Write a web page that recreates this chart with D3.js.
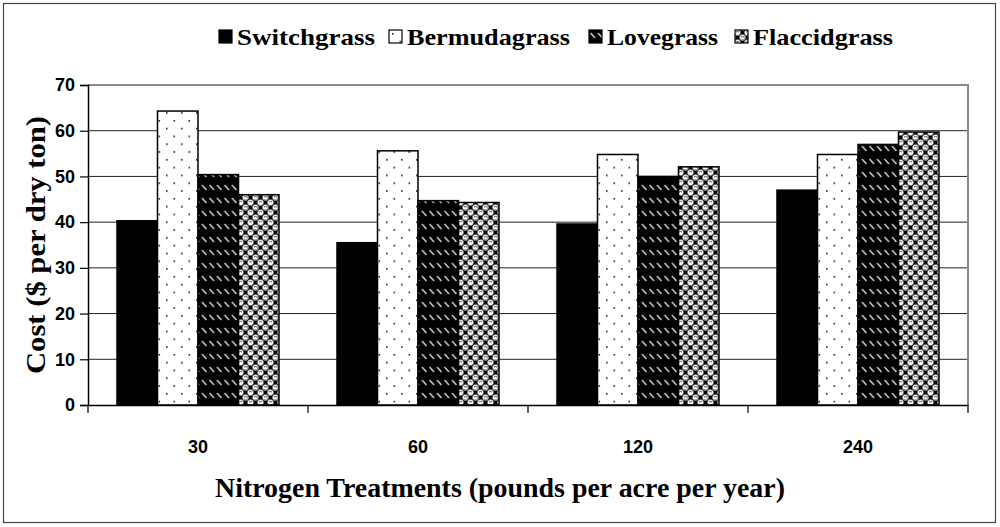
<!DOCTYPE html>
<html>
<head>
<meta charset="utf-8">
<script src="https://cdn.jsdelivr.net/npm/d3@7"></script>
<style>
  html, body { margin: 0; padding: 0; background: #fff; }
  svg { display: block; }
</style>
</head>
<body>
<svg id="chart" width="1000" height="527"></svg>
<script>
const categories = ["30", "60", "120", "240"];
const seriesNames = ["Switchgrass", "Bermudagrass", "Lovegrass", "Flaccidgrass"];
const switchgrass = [40.3, 35.5, 39.6, 47.0];
const bermudagrass = [64.3, 55.6, 54.8, 54.8];
const lovegrass = [50.4, 44.7, 50.0, 57.0];
const flaccidgrass = [46.0, 44.3, 52.1, 59.7];
const yTicks = [0, 10, 20, 30, 40, 50, 60, 70];

const seriesValues = [switchgrass, bermudagrass, lovegrass, flaccidgrass];
const fills = ["#000", "url(#pBerm)", "url(#pLove)", "url(#pFlac)"];
const serif = "'Liberation Serif', 'Times New Roman', serif";
const sans = "'Liberation Sans', Arial, sans-serif";

const svg = d3.select("#chart");
const defs = svg.append("defs");

// Bermudagrass: white with sparse staggered dots
const pB = defs.append("pattern").attr("id", "pBerm").attr("patternUnits", "userSpaceOnUse")
  .attr("width", 15).attr("height", 15.6);
pB.append("rect").attr("width", 15).attr("height", 15.6).attr("fill", "#fff");
pB.append("rect").attr("x", 3).attr("y", 3).attr("width", 1.6).attr("height", 1.6).attr("fill", "#222");
pB.append("rect").attr("x", 10.5).attr("y", 10.8).attr("width", 1.6).attr("height", 1.6).attr("fill", "#222");

// Lovegrass: black with white diagonal dashes
const pL = defs.append("pattern").attr("id", "pLove").attr("patternUnits", "userSpaceOnUse")
  .attr("width", 7.5).attr("height", 13);
pL.append("rect").attr("width", 7.5).attr("height", 13).attr("fill", "#000");
pL.append("line").attr("x1", 1.5).attr("y1", 3).attr("x2", 6).attr("y2", 8)
  .attr("stroke", "#d8d8d8").attr("stroke-width", 1.4);

// Flaccidgrass: checker of black squares and white circles
const pF = defs.append("pattern").attr("id", "pFlac").attr("patternUnits", "userSpaceOnUse")
  .attr("width", 10).attr("height", 10);
pF.append("rect").attr("width", 10).attr("height", 10).attr("fill", "#000");
[[2.5, 2.5], [7.5, 7.5], [7.5, -2.5], [-2.5, 7.5], [12.5, 7.5], [7.5, 12.5], [2.5, 12.5], [12.5, 2.5]].forEach(([cx, cy]) => {
  pF.append("circle").attr("cx", cx).attr("cy", cy).attr("r", 3.1).attr("fill", "#fff")
    .attr("stroke", "#555").attr("stroke-width", 0.6);
  pF.append("path").attr("d", `M${cx - 1.5},${cy - 0.4} Q${cx},${cy - 1.8} ${cx + 1.5},${cy - 0.4}`)
    .attr("stroke", "#333").attr("stroke-width", 0.9).attr("fill", "none");
});

// Outer border
svg.append("rect").attr("x", 3.5).attr("y", 3.5).attr("width", 992).attr("height", 519)
  .attr("fill", "none").attr("stroke", "#444").attr("stroke-width", 1.2);

const pLeft = 88, pRight = 968, pTop = 85, pBottom = 405;
const x0 = d3.scaleBand().domain(categories).range([pLeft, pRight]).padding(0);
const x1 = d3.scaleBand().domain(seriesNames).range([29, x0.bandwidth() - 29]).padding(0);
const y = d3.scaleLinear().domain([0, 70]).range([pBottom, pTop]);

// Gridlines
svg.append("g").selectAll("line").data(yTicks.filter(t => t > 0 && t < 70)).join("line")
  .attr("x1", pLeft).attr("x2", pRight).attr("y1", d => y(d)).attr("y2", d => y(d))
  .attr("stroke", "#222").attr("stroke-width", 1);

// Plot area border top/right (gray)
svg.append("path").attr("d", `M${pLeft},${pTop} H${pRight} V${pBottom}`)
  .attr("fill", "none").attr("stroke", "#8a8a8a").attr("stroke-width", 2);

// Bars
const groups = svg.append("g").selectAll("g").data(categories).join("g")
  .attr("transform", d => `translate(${x0(d)},0)`);
groups.selectAll("rect").data((c, ci) => seriesNames.map((s, si) => ({ s, si, v: seriesValues[si][ci] })))
  .join("rect")
  .attr("x", d => x1(d.s)).attr("width", x1.bandwidth())
  .attr("y", d => y(d.v)).attr("height", d => y(0) - y(d.v))
  .attr("fill", d => fills[d.si]).attr("stroke", "#000").attr("stroke-width", 1.5);

// Y axis
const yAxis = d3.axisLeft(y).tickValues(yTicks).tickSize(8).tickPadding(5);
const gy = svg.append("g").attr("transform", `translate(${pLeft},0)`).call(yAxis);
gy.select(".domain").attr("stroke", "#000").attr("stroke-width", 1.5);
gy.selectAll(".tick line").attr("stroke", "#000").attr("stroke-width", 1.2);
gy.selectAll(".tick text").attr("font-family", sans)
  .attr("font-weight", "bold").attr("font-size", 18).attr("fill", "#000");

// X axis
const xAxis = d3.axisBottom(x0).tickSize(0).tickPadding(0);
const gx = svg.append("g").attr("transform", `translate(0,${pBottom})`).call(xAxis);
gx.select(".domain").attr("stroke", "#000").attr("stroke-width", 1.5);
gx.selectAll(".tick text").attr("font-family", sans)
  .attr("font-weight", "bold").attr("font-size", 18).attr("fill", "#000").attr("dy", 48);
// category separators
const seps = categories.map(c => x0(c)).concat([pRight]);
gx.selectAll(".sep").data(seps).join("line").attr("class", "sep")
  .attr("x1", d => d).attr("x2", d => d).attr("y1", 0).attr("y2", 8)
  .attr("stroke", "#000").attr("stroke-width", 1.2);

// Axis titles
svg.append("text").attr("transform", "translate(45,245) rotate(-90)")
  .attr("text-anchor", "middle").attr("font-family", serif)
  .attr("font-weight", "bold").attr("font-size", 27)
  .attr("textLength", 258).attr("lengthAdjust", "spacingAndGlyphs")
  .text("Cost ($ per dry ton)");
svg.append("text").attr("x", 500).attr("y", 497).attr("text-anchor", "middle")
  .attr("font-family", serif)
  .attr("font-weight", "bold").attr("font-size", 27)
  .attr("textLength", 570).attr("lengthAdjust", "spacingAndGlyphs")
  .text("Nitrogen Treatments (pounds per acre per year)");

// Legend
const legendX = [219, 389, 589, 735];
const legendTextW = [138, 163, 111, 140];
const lg = svg.append("g").selectAll("g").data(seriesNames).join("g")
  .attr("transform", (d, i) => `translate(${legendX[i]},30)`);
lg.append("rect").attr("x", 0).attr("y", 0).attr("width", 13).attr("height", 13)
  .attr("fill", (d, i) => fills[i]).attr("stroke", "#000").attr("stroke-width", 1.2);
lg.append("text").attr("x", 18).attr("y", 15)
  .attr("font-family", serif)
  .attr("font-weight", "bold").attr("font-size", 24)
  .attr("textLength", (d, i) => legendTextW[i]).attr("lengthAdjust", "spacingAndGlyphs")
  .text(d => d);
</script>
</body>
</html>
